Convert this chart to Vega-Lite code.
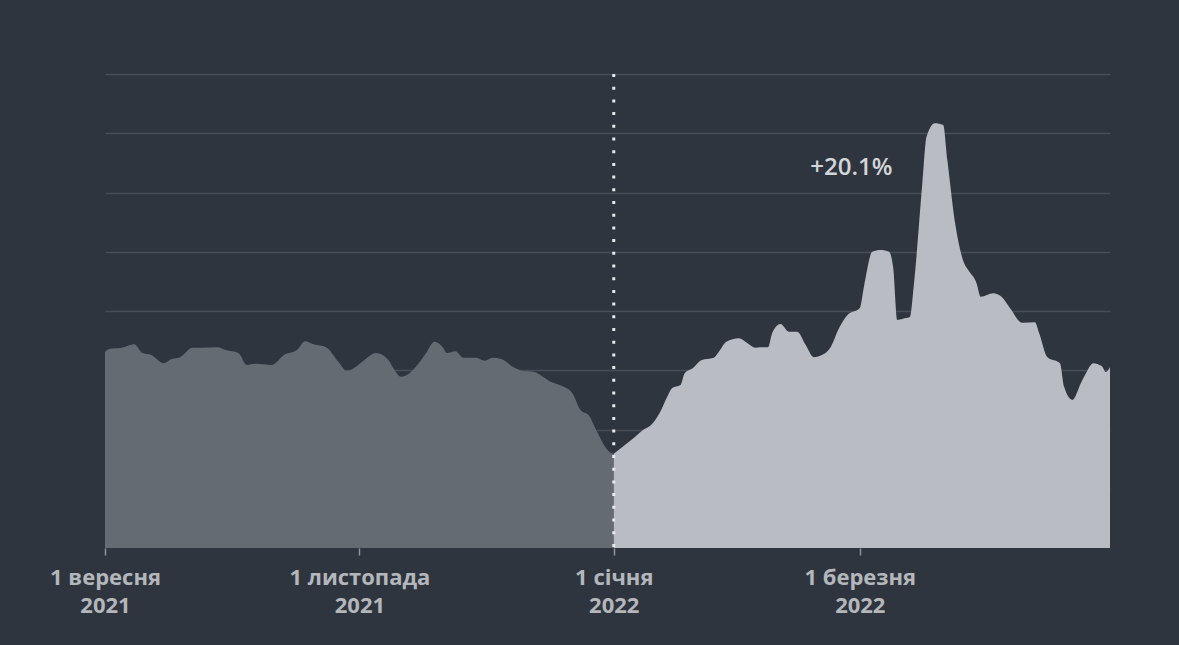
{
  "$schema": "https://vega.github.io/schema/vega-lite/v6.json",
  "width": 1005,
  "height": 474,
  "autosize": {"type": "none"},
  "padding": {"left": 105, "top": 74, "right": 69, "bottom": 97},
  "background": "#2f353e",
  "config": {"view": {"stroke": null}},
  "data": {"values": [
    {"date": "2021-09-01", "v": 33.1}, {"date": "2021-09-02", "v": 33.6}, {"date": "2021-09-05", "v": 33.8},
    {"date": "2021-09-08", "v": 34.4}, {"date": "2021-09-10", "v": 32.9}, {"date": "2021-09-12", "v": 32.6},
    {"date": "2021-09-15", "v": 31.2}, {"date": "2021-09-17", "v": 31.9}, {"date": "2021-09-19", "v": 32.2},
    {"date": "2021-09-22", "v": 33.8}, {"date": "2021-09-24", "v": 33.8}, {"date": "2021-09-28", "v": 33.9},
    {"date": "2021-09-30", "v": 33.4}, {"date": "2021-10-03", "v": 32.9}, {"date": "2021-10-05", "v": 30.9},
    {"date": "2021-10-07", "v": 31.1}, {"date": "2021-10-11", "v": 30.9}, {"date": "2021-10-14", "v": 32.6},
    {"date": "2021-10-17", "v": 33.4}, {"date": "2021-10-19", "v": 34.9}, {"date": "2021-10-21", "v": 34.4},
    {"date": "2021-10-24", "v": 33.9}, {"date": "2021-10-27", "v": 31.4}, {"date": "2021-10-29", "v": 29.9},
    {"date": "2021-10-31", "v": 30.5}, {"date": "2021-11-02", "v": 31.6}, {"date": "2021-11-05", "v": 32.9},
    {"date": "2021-11-08", "v": 31.7}, {"date": "2021-11-09", "v": 30.5}, {"date": "2021-11-11", "v": 28.9},
    {"date": "2021-11-13", "v": 29.5}, {"date": "2021-11-16", "v": 31.9}, {"date": "2021-11-17", "v": 32.9},
    {"date": "2021-11-19", "v": 34.8}, {"date": "2021-11-21", "v": 33.9}, {"date": "2021-11-22", "v": 32.9},
    {"date": "2021-11-24", "v": 33.2}, {"date": "2021-11-26", "v": 32.1}, {"date": "2021-11-29", "v": 32.1},
    {"date": "2021-12-01", "v": 31.6}, {"date": "2021-12-03", "v": 32.1}, {"date": "2021-12-05", "v": 31.9},
    {"date": "2021-12-08", "v": 30.5}, {"date": "2021-12-10", "v": 29.9}, {"date": "2021-12-13", "v": 29.7},
    {"date": "2021-12-15", "v": 28.9}, {"date": "2021-12-17", "v": 28.0}, {"date": "2021-12-19", "v": 27.5},
    {"date": "2021-12-22", "v": 26.2}, {"date": "2021-12-24", "v": 23.3}, {"date": "2021-12-26", "v": 22.4},
    {"date": "2021-12-28", "v": 19.6}, {"date": "2021-12-30", "v": 17.0}, {"date": "2021-12-31", "v": 16.2},
    {"date": "2022-01-01", "v": 15.9}, {"date": "2022-01-03", "v": 17.0}, {"date": "2022-01-06", "v": 18.7},
    {"date": "2022-01-08", "v": 19.9}, {"date": "2022-01-10", "v": 20.8}, {"date": "2022-01-12", "v": 22.8},
    {"date": "2022-01-14", "v": 25.8}, {"date": "2022-01-15", "v": 27.0}, {"date": "2022-01-17", "v": 27.5},
    {"date": "2022-01-18", "v": 29.5}, {"date": "2022-01-20", "v": 30.4}, {"date": "2022-01-22", "v": 31.7},
    {"date": "2022-01-25", "v": 32.1}, {"date": "2022-01-26", "v": 32.9}, {"date": "2022-01-28", "v": 34.8},
    {"date": "2022-01-31", "v": 35.4}, {"date": "2022-02-02", "v": 34.6}, {"date": "2022-02-04", "v": 33.8},
    {"date": "2022-02-05", "v": 33.9}, {"date": "2022-02-07", "v": 33.9}, {"date": "2022-02-08", "v": 36.3},
    {"date": "2022-02-10", "v": 37.8}, {"date": "2022-02-12", "v": 36.5}, {"date": "2022-02-14", "v": 36.5},
    {"date": "2022-02-16", "v": 34.3}, {"date": "2022-02-18", "v": 32.2}, {"date": "2022-02-20", "v": 32.6},
    {"date": "2022-02-22", "v": 33.9}, {"date": "2022-02-24", "v": 37.1}, {"date": "2022-02-26", "v": 39.3},
    {"date": "2022-03-01", "v": 40.5}, {"date": "2022-03-02", "v": 44.1}, {"date": "2022-03-04", "v": 50.0},
    {"date": "2022-03-06", "v": 50.3}, {"date": "2022-03-08", "v": 50.0}, {"date": "2022-03-09", "v": 47.4},
    {"date": "2022-03-10", "v": 38.5}, {"date": "2022-03-12", "v": 38.8}, {"date": "2022-03-13", "v": 39.0},
    {"date": "2022-03-14", "v": 44.7}, {"date": "2022-03-16", "v": 61.6}, {"date": "2022-03-17", "v": 69.4},
    {"date": "2022-03-19", "v": 71.7}, {"date": "2022-03-21", "v": 71.4}, {"date": "2022-03-22", "v": 65.5},
    {"date": "2022-03-24", "v": 54.2}, {"date": "2022-03-26", "v": 48.1}, {"date": "2022-03-27", "v": 46.9},
    {"date": "2022-03-29", "v": 44.7}, {"date": "2022-03-30", "v": 42.4}, {"date": "2022-04-02", "v": 43.0},
    {"date": "2022-04-04", "v": 42.4}, {"date": "2022-04-06", "v": 40.5}, {"date": "2022-04-09", "v": 38.0},
    {"date": "2022-04-12", "v": 38.1}, {"date": "2022-04-13", "v": 36.3}, {"date": "2022-04-15", "v": 32.2},
    {"date": "2022-04-18", "v": 31.2}, {"date": "2022-04-19", "v": 27.2}, {"date": "2022-04-21", "v": 25.0},
    {"date": "2022-04-23", "v": 27.8}, {"date": "2022-04-24", "v": 29.2}, {"date": "2022-04-26", "v": 31.2},
    {"date": "2022-04-28", "v": 30.7}, {"date": "2022-04-29", "v": 29.7}, {"date": "2022-04-30", "v": 30.5}
  ]},
  "encoding": {
    "x": {
      "field": "date", "type": "temporal",
      "scale": {"type": "utc", "domain": [{"year": 2021, "month": 9, "date": 1, "utc": true}, {"year": 2022, "month": 4, "date": 30, "utc": true}]},
      "axis": {
        "title": null,
        "values": [
          {"year": 2021, "month": 9, "date": 1, "utc": true},
          {"year": 2021, "month": 11, "date": 1, "utc": true},
          {"year": 2022, "month": 1, "date": 1, "utc": true},
          {"year": 2022, "month": 3, "date": 1, "utc": true}
        ],
        "labelExpr": "['1 ' + (utcmonth(datum.value) == 8 ? 'вересня' : utcmonth(datum.value) == 10 ? 'листопада' : utcmonth(datum.value) == 0 ? 'січня' : 'березня'), '' + utcyear(datum.value)]",
        "labelFont": "Open Sans", "labelFontSize": 22, "labelFontWeight": "bold", "labelColor": "#b3b7bc",
        "labelLineHeight": 28, "labelPadding": 12, "labelAngle": 0, "labelAlign": "center", "labelBaseline": "top",
        "labelOverlap": false, "labelFlush": false,
        "tickColor": "#8f949a", "tickSize": 7, "tickWidth": 1.5,
        "domain": false, "grid": false
      }
    },
    "y": {
      "field": "v", "type": "quantitative",
      "scale": {"domain": [0, 80], "nice": false},
      "axis": {
        "title": null, "labels": false, "ticks": false, "domain": false,
        "values": [10, 20, 30, 40, 50, 60, 70, 80],
        "grid": true, "gridColor": "#474e57", "gridWidth": 1.5
      }
    }
  },
  "layer": [
    {
      "transform": [{"filter": {"field": "date", "lte": {"year": 2022, "month": 1, "date": 1, "utc": true}}}],
      "mark": {"type": "area", "color": "#656b73", "interpolate": "monotone", "opacity": 1}
    },
    {
      "transform": [{"filter": {"field": "date", "gte": {"year": 2022, "month": 1, "date": 1, "utc": true}}}],
      "mark": {"type": "area", "color": "#b9bdc3", "interpolate": "monotone", "opacity": 1}
    },
    {
      "data": {"values": [{"date": "2022-01-01"}]},
      "mark": {"type": "rule", "color": "#e6e8ea", "strokeWidth": 3, "strokeDash": [3, 9.7]},
      "encoding": {"x": {"field": "date", "type": "temporal"}, "y": null}
    },
    {
      "data": {"values": [{"date": "2022-02-27", "v": 64.1, "label": "+20.1%"}]},
      "mark": {"type": "text", "font": "Open Sans", "fontSize": 24, "fontWeight": 600, "color": "#d3d6d9", "align": "center", "baseline": "middle", "letterSpacing": -0.5},
      "encoding": {"text": {"field": "label"}}
    }
  ]
}
